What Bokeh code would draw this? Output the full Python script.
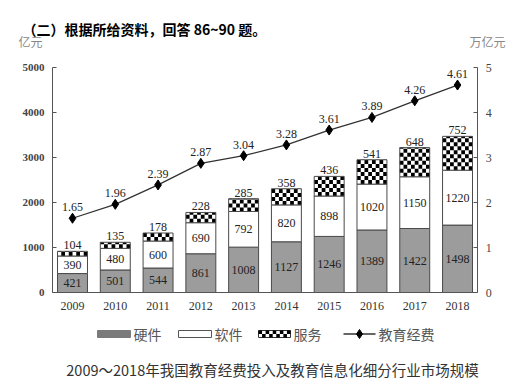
from bokeh.plotting import figure
from bokeh.models import Range1d, LinearAxis, ColumnDataSource, FixedTicker
from bokeh.core.properties import value
from bokeh.embed import file_html
from bokeh.resources import INLINE

# ---------------- data ----------------
years = [2009, 2010, 2011, 2012, 2013, 2014, 2015, 2016, 2017, 2018]
hardware = [421, 501, 544, 861, 1008, 1127, 1246, 1389, 1422, 1498]
software = [390, 480, 600, 690, 792, 820, 898, 1020, 1150, 1220]
service = [104, 135, 178, 228, 285, 358, 436, 541, 648, 752]
edu_spend = [1.65, 1.96, 2.39, 2.87, 3.04, 3.28, 3.61, 3.89, 4.26, 4.61]

left_ticks = [0, 1000, 2000, 3000, 4000, 5000]
right_ticks = [0, 1, 2, 3, 4, 5]
series_names = ["硬件", "软件", "服务", "教育经费"]
header = "（二）根据所给资料，回答 86~90 题。"
left_unit = "亿元"
right_unit = "万亿元"
caption = "2009～2018年我国教育经费投入及教育信息化细分行业市场规模"

SERIF = "Liberation Serif"
CJK = "Noto Sans CJK SC"

# ---------------- geometry (canvas = frame, page coords) ----------------
W, H = 518, 383
PXX = 42.78          # px per year
PYY = 0.045          # px per unit (1000 units = 45 px)
X0 = 2009 - 72 / PXX
X1 = X0 + W / PXX
Y_TOP = 292 / PYY
Y_BOT = -(H - 292) / PYY
XL, XR = 2008.53, 2018.47   # axis positions
BW = 0.7


def xd(px):
    return X0 + px / PXX


def yd(py):
    return Y_TOP - py / PYY


hw_mid = [h / 2 for h in hardware]
sw_bot = list(hardware)
sw_top = [h + s for h, s in zip(hardware, software)]
sw_mid = [h + s / 2 for h, s in zip(hardware, software)]
tot = [h + s + v for h, s, v in zip(hardware, software, service)]

src = ColumnDataSource(dict(
    x=years, hw=hardware, sw_bot=sw_bot, sw_top=sw_top, tot=tot,
    edu=edu_spend, hw_mid=hw_mid, sw_mid=sw_mid,
    hw_t=[str(v) for v in hardware], sw_t=[str(v) for v in software],
    sv_t=[str(v) for v in service], edu_t=["%.2f" % v for v in edu_spend],
))

p = figure(width=W, height=H, output_backend="svg", toolbar_location=None,
           x_range=Range1d(X0, X1), y_range=Range1d(Y_BOT, Y_TOP),
           x_axis_location=None, y_axis_location=None,
           min_border=0, min_border_left=0, min_border_right=0,
           min_border_top=0, min_border_bottom=0)
p.extra_y_ranges = {"y2": Range1d(Y_BOT / 1000, Y_TOP / 1000)}
p.outline_line_color = None
p.grid.grid_line_color = None

AX_COL = "#555555"
LBL_COL = "#333333"

ax_b = LinearAxis(fixed_location=0, bounds=(XL, XR), ticker=FixedTicker(ticks=years))
ax_b.major_tick_line_color = None
ax_b.minor_tick_line_color = None
ax_b.axis_line_color = AX_COL
ax_b.major_label_text_font = SERIF
ax_b.major_label_text_font_size = "12px"
ax_b.major_label_text_color = LBL_COL
ax_b.major_label_standoff = 3
p.add_layout(ax_b, "below")

ax_l = LinearAxis(fixed_location=XL, bounds=(0, 5000), ticker=FixedTicker(ticks=left_ticks))
ax_r = LinearAxis(fixed_location=XR, bounds=(0, 5), y_range_name="y2",
                  ticker=FixedTicker(ticks=right_ticks))
for ax in (ax_l, ax_r):
    ax.major_tick_in = 4
    ax.major_tick_out = 0
    ax.minor_tick_line_color = None
    ax.axis_line_color = AX_COL
    ax.major_tick_line_color = AX_COL
    ax.major_label_text_font = SERIF
    ax.major_label_text_font_size = "11px"
    ax.major_label_text_font_style = "bold"
    ax.major_label_text_color = "#444444"
    ax.major_label_standoff = 8
ax_r.major_label_text_font_style = "normal"
ax_r.major_label_text_font_size = "12px"
p.add_layout(ax_l, "left")
p.add_layout(ax_r, "right")

# ---------------- bars ----------------
BAR_LINE = "#4a4a4a"
p.vbar(x="x", bottom=0, top="hw", width=BW, source=src,
       fill_color="#9c9c9c", line_color=BAR_LINE, line_width=1)
p.vbar(x="x", bottom="sw_bot", top="sw_top", width=BW, source=src,
       fill_color="white", line_color=BAR_LINE, line_width=1)
p.vbar(x="x", bottom="sw_top", top="tot", width=BW, source=src,
       fill_color="white", line_color=None)

# checker pattern of the service segment
cols = 8
sq_w = BW / cols
sq_h = 4 / PYY
ql, qr, qb, qt = [], [], [], []
for yr, b, t in zip(years, sw_top, tot):
    row = 0
    y = b
    while y < t - 1e-9:
        y2 = min(y + sq_h, t)
        for c in range(cols):
            if (row + c) % 2 == 1:
                ql.append(yr - BW / 2 + c * sq_w)
                qr.append(yr - BW / 2 + (c + 1) * sq_w)
                qb.append(y)
                qt.append(y2)
        row += 1
        y += sq_h
p.quad(left=ql, right=qr, bottom=qb, top=qt, fill_color="black", line_color=None)
p.vbar(x="x", bottom="sw_top", top="tot", width=BW, source=src,
       fill_color=None, line_color=BAR_LINE, line_width=1)

# ---------------- line ----------------
p.line(x="x", y="edu", source=src, y_range_name="y2", line_color="#333333", line_width=1.3)
p.scatter(x="x", y="edu", source=src, y_range_name="y2", marker="diamond",
          size=10, fill_color="black", line_color="black")

# ---------------- value labels ----------------
common = dict(text_font=value(SERIF), text_font_size="12px", text_color="#222222",
              text_align="center", source=src)
p.text(x="x", y="hw_mid", text="hw_t", text_baseline="middle", **common)
p.text(x="x", y="sw_mid", text="sw_t", text_baseline="middle", **common)
p.text(x="x", y="tot", text="sv_t", text_baseline="bottom", y_offset=-2, **common)
p.text(x="x", y="edu", text="edu_t", text_baseline="bottom", y_offset=-7,
       y_range_name="y2", **common)

# ---------------- header / units / caption ----------------
p.text(x=[xd(22)], y=[yd(28)], text=[header], text_font=value(CJK),
       text_font_style="bold", text_font_size="14px", text_color="black",
       text_baseline="middle", text_align="left")
p.text(x=[xd(18)], y=[yd(41)], text=[left_unit], text_font=value(CJK),
       text_font_size="12px", text_color="#888888", text_baseline="middle",
       text_align="left")
p.text(x=[xd(505)], y=[yd(41)], text=[right_unit], text_font=value(CJK),
       text_font_size="12px", text_color="#888888", text_baseline="middle",
       text_align="right")
p.text(x=[xd(272)], y=[yd(369)], text=[caption], text_font=value(CJK),
       text_font_size="14.5px", text_color="#333333", text_baseline="middle",
       text_align="center")

# ---------------- legend (drawn by hand so the checker shows) ----------------
LY = 333.5
p.quad(left=[xd(97)], right=[xd(130)], top=[yd(LY - 3.5)], bottom=[yd(LY + 3.5)],
       fill_color="#7a7a7a", line_color="#7a7a7a")
p.quad(left=[xd(178)], right=[xd(211)], top=[yd(LY - 3.5)], bottom=[yd(LY + 3.5)],
       fill_color="white", line_color="#555555")
p.quad(left=[xd(258)], right=[xd(290)], top=[yd(LY - 3.5)], bottom=[yd(LY + 3.5)],
       fill_color="white", line_color="#333333")
lg_l, lg_r, lg_b, lg_t = [], [], [], []
for r in range(2):
    for c in range(9):
        if (r + c) % 2 == 0:
            lg_l.append(xd(258 + c * 32 / 9))
            lg_r.append(xd(258 + (c + 1) * 32 / 9))
            lg_t.append(yd(LY - 3.5 + r * 3.5))
            lg_b.append(yd(LY - 3.5 + (r + 1) * 3.5))
p.quad(left=lg_l, right=lg_r, bottom=lg_b, top=lg_t, fill_color="black", line_color=None)
p.line(x=[xd(343), xd(375)], y=[yd(LY), yd(LY)], line_color="#333333", line_width=1.3)
p.scatter(x=[xd(359)], y=[yd(LY)], marker="diamond", size=9,
          fill_color="black", line_color="black")
p.text(x=[xd(133), xd(214), xd(293), xd(378)], y=[yd(LY)] * 4, text=series_names,
       text_font=value(CJK), text_font_size="14px", text_color="#555555",
       text_baseline="middle", text_align="left")

open("out.html", "w").write(file_html(p, INLINE))
